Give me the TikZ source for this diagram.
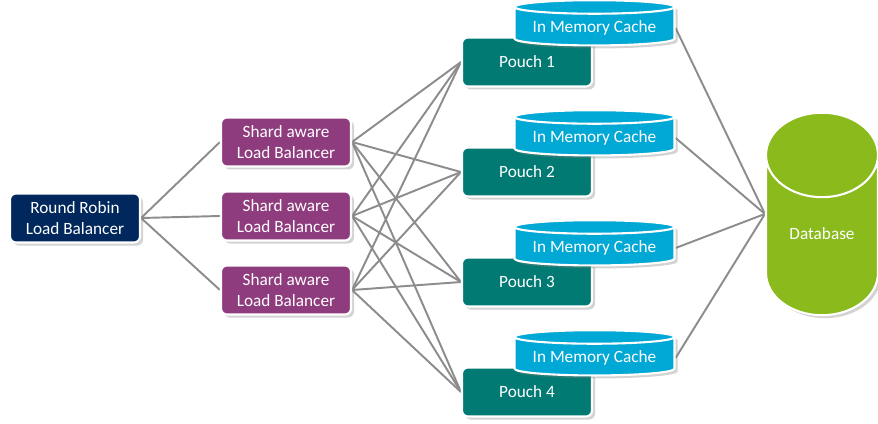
\documentclass[tikz,border=0pt]{standalone}
\usepackage{fontspec}
\setmainfont{Carlito}
\usepackage{xcolor}
\usepackage{tikz}
\usetikzlibrary{shapes.geometric,shadows,backgrounds}
\definecolor{rrblue}{RGB}{0,40,92}
\definecolor{shardpurple}{RGB}{142,60,126}
\definecolor{pouchteal}{RGB}{0,122,114}
\definecolor{cacheblue}{RGB}{0,168,214}
\definecolor{dbgreen}{RGB}{139,186,28}
\definecolor{linkgray}{RGB}{140,140,140}

\begin{document}
\begin{tikzpicture}[node distance=2.2cm, font=\fontsize{9.8}{11.5}\selectfont]
    \useasboundingbox (-1.5,-4.1) rectangle (16.06,4.36);
    \tikzstyle{box} = [rectangle, rounded corners=0.12cm, minimum width=2.6cm, minimum height=0.98cm, align=center, draw=white, line width=1.2pt, text=white, drop shadow={opacity=0.35, shadow xshift=0.06cm, shadow yshift=-0.06cm}]
    \tikzstyle{rr} = [box, fill=rrblue]
    \tikzstyle{shard} = [box, fill=shardpurple]
    \tikzstyle{pouch} = [box, fill=pouchteal]
    \tikzstyle{cache} = [cylinder, shape border rotate=90, aspect=0.1, minimum width=3.2cm, minimum height=0.8cm, draw=white, line width=1.2pt, fill=cacheblue, text=white, drop shadow={opacity=0.35, shadow xshift=0.06cm, shadow yshift=-0.06cm}]
    \tikzstyle{db} = [cylinder, shape border rotate=90, aspect=1.1, minimum width=2.24cm, minimum height=4.05cm, text depth=12.5pt, draw=white, line width=1.2pt, fill=dbgreen, text=white, drop shadow={opacity=0.35, shadow xshift=0.06cm, shadow yshift=-0.06cm}]
    \tikzstyle{link} = [draw=linkgray, line width=1.1pt]

    % Front balancer
    \node [rr] (rr) at (0,0) {Round Robin\\Load Balancer};

    % Shard balancers
    \node [shard, right of=rr, xshift=2.02cm, yshift=1.52cm] (shard1) {Shard aware\\Load Balancer};
    \node [shard, below of=shard1, node distance=1.48cm] (shard2) {Shard aware\\Load Balancer};
    \node [shard, below of=shard2, node distance=1.48cm] (shard3) {Shard aware\\Load Balancer};

    % Pouches
    \node [pouch] (pouch1) at (9.04,3.12) {Pouch 1};
    \node [pouch, below of=pouch1] (pouch2) {Pouch 2};
    \node [pouch, below of=pouch2] (pouch3) {Pouch 3};
    \node [pouch, below of=pouch3] (pouch4) {Pouch 4};

    % Caches
    \node [cache, right of=pouch1, xshift=-0.85cm, yshift=0.68cm] (cache1) {In Memory Cache};
    \node [cache, right of=pouch2, xshift=-0.85cm, yshift=0.68cm] (cache2) {In Memory Cache};
    \node [cache, right of=pouch3, xshift=-0.85cm, yshift=0.68cm] (cache3) {In Memory Cache};
    \node [cache, right of=pouch4, xshift=-0.85cm, yshift=0.68cm] (cache4) {In Memory Cache};

    % Database
    \node [db] (db) at (14.94,-0.54) {Database};

    % Connections
    \begin{scope}[on background layer]
    \draw [link] (rr.east) -- (shard1.west);
    \draw [link] (rr.east) -- (shard2.west);
    \draw [link] (rr.east) -- (shard3.west);

    \draw [link] (shard1.east) -- (pouch1.west);
    \draw [link] (shard1.east) -- (pouch2.west);
    \draw [link] (shard1.east) -- (pouch3.west);
    \draw [link] (shard1.east) -- (pouch4.west);
    \draw [link] (shard2.east) -- (pouch1.west);
    \draw [link] (shard2.east) -- (pouch2.west);
    \draw [link] (shard2.east) -- (pouch3.west);
    \draw [link] (shard2.east) -- (pouch4.west);
    \draw [link] (shard3.east) -- (pouch1.west);
    \draw [link] (shard3.east) -- (pouch2.west);
    \draw [link] (shard3.east) -- (pouch3.west);
    \draw [link] (shard3.east) -- (pouch4.west);

    \draw [link] (cache1.east) -- (db.shape center -| db.west);
    \draw [link] (cache2.east) -- (db.shape center -| db.west);
    \draw [link] (cache3.east) -- (db.shape center -| db.west);
    \draw [link] (cache4.east) -- (db.shape center -| db.west);
    \end{scope}
\end{tikzpicture}
\end{document}
